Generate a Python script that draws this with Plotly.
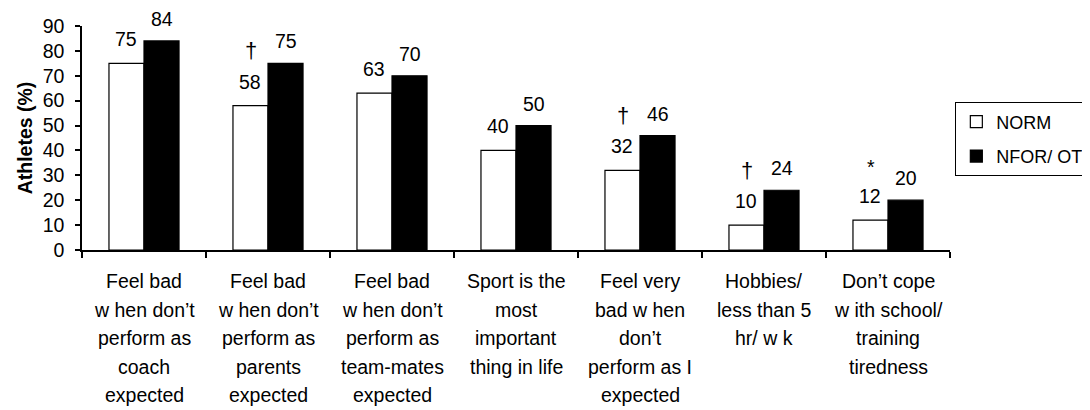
import plotly.graph_objects as go

categories = [
    "Feel bad<br>w hen don’t<br>perform as<br>coach<br>expected",
    "Feel bad<br>w hen don’t<br>perform as<br>parents<br>expected",
    "Feel bad<br>w hen don’t<br>perform as<br>team-mates<br>expected",
    "Sport is the<br>most<br>important<br>thing in life",
    "Feel very<br>bad w hen<br>don’t<br>perform as I<br>expected",
    "Hobbies/<br>less than 5<br>hr/ w k",
    "Don’t cope<br>w ith school/<br>training<br>tiredness",
]
norm_values = [75, 58, 63, 40, 32, 10, 12]
nfor_values = [84, 75, 70, 50, 46, 24, 20]
norm_marks = ["", "†", "", "", "†", "†", "*"]
y_ticks = [0, 10, 20, 30, 40, 50, 60, 70, 80, 90]

FONT = "Liberation Sans, Arial, sans-serif"
FS = 19.5

fig = go.Figure()
fig.add_trace(go.Bar(
    name="NORM", x=categories, y=norm_values,
    marker=dict(color="white", line=dict(color="black", width=1.2)),
    legendgroup="a",
))
fig.add_trace(go.Bar(
    name="NFOR/ OT", x=categories, y=nfor_values,
    marker=dict(color="black", line=dict(color="black", width=1.2)),
    legendgroup="b",
))

ann = []
for c, v in zip(categories, norm_values):
    ann.append(dict(x=c, y=v, xref="x", yref="y", text=str(v), showarrow=False,
                    xshift=-18, yshift=24, yanchor="middle",
                    font=dict(family=FONT, size=FS, color="black")))
for c, v in zip(categories, nfor_values):
    ann.append(dict(x=c, y=v, xref="x", yref="y", text=str(v), showarrow=False,
                    xshift=18, yshift=22, yanchor="middle",
                    font=dict(family=FONT, size=FS, color="black")))
for c, v, m in zip(categories, norm_values, norm_marks):
    if m:
        ann.append(dict(x=c, y=v, xref="x", yref="y", text=m, showarrow=False,
                        xshift=-17, yshift=55 if m == "†" else 53, yanchor="middle",
                        font=dict(family=FONT, size=22 if m == "†" else FS, color="black")))
# category labels, one line per annotation so the line spacing matches
for c in categories:
    for i, line in enumerate(c.split("<br>")):
        ann.append(dict(x=c, y=0, xref="x", yref="paper", text=line, showarrow=False,
                        yshift=-(31 + i * 28.5), yanchor="middle",
                        font=dict(family=FONT, size=FS, color="black")))

fig.update_layout(
    width=1082, height=402,
    margin=dict(l=74, r=140, t=18, b=160, autoexpand=False),
    paper_bgcolor="white", plot_bgcolor="white",
    barmode="group", bargap=0.435, bargroupgap=0,
    font=dict(family=FONT, size=FS, color="black"),
    showlegend=True,
    legend=dict(
        x=1.0058, y=0.66, xanchor="left", yanchor="top",
        bordercolor="black", borderwidth=1.3, bgcolor="white",
        font=dict(family=FONT, size=18, color="black"),
        tracegroupgap=8,
    ),
    annotations=ann,
    xaxis=dict(
        type="category",
        showline=True, linecolor="black", linewidth=1.5,
        ticks="outside", tickson="boundaries", ticklen=6, tickcolor="black", tickwidth=1.5,
        showticklabels=False,
        showgrid=False, zeroline=False,
    ),
    yaxis=dict(
        range=[0, 90], tickvals=y_ticks,
        showline=True, linecolor="black", linewidth=1.5,
        ticks="outside", ticklen=5, tickcolor="black", tickwidth=1.5,
        ticklabelstandoff=7,
        tickfont=dict(family=FONT, size=FS, color="black"),
        showgrid=False, zeroline=False,
        title=dict(text="<b>Athletes (%)</b>", font=dict(family=FONT, size=FS, color="black"), standoff=5),
    ),
)

fig.write_html("out.html")
